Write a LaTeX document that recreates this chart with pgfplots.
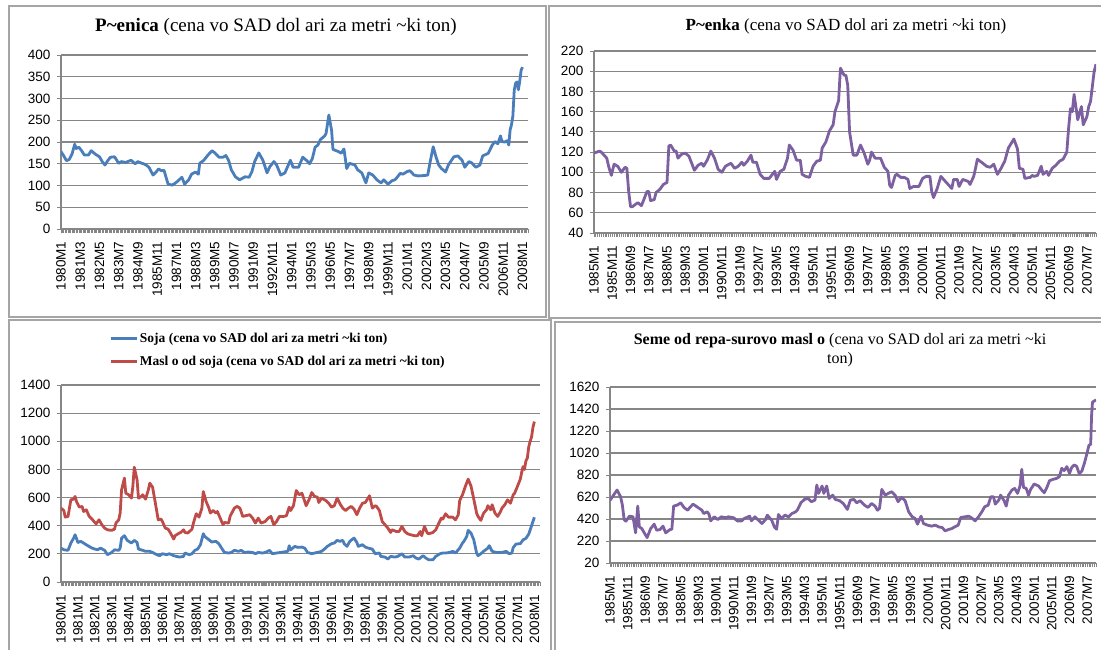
\documentclass[border=0pt]{standalone}
\usepackage{pgfplots}
\pgfplotsset{compat=1.18}
\usepackage{fontspec}
\setmainfont{Liberation Serif}
\newfontfamily\arial{Liberation Sans}
\definecolor{cblue}{RGB}{74,126,187}
\definecolor{cred}{RGB}{190,75,72}
\definecolor{cpurp}{RGB}{125,96,160}
\definecolor{cgrid}{RGB}{134,134,134}
\definecolor{cframe}{RGB}{165,165,165}
\pgfplotsset{
  panel/.style={
    scale only axis, anchor=south west,
    axis lines*=left,
    axis line style={cgrid, line width=1.1pt, -},
    ymajorgrids, grid style={cgrid, line width=1.1pt},
    tick align=outside,
    major tick length=4pt, minor tick length=4pt,
    tick style={cgrid, line width=0.8pt},
    every minor tick/.append style={cgrid, line width=0.7pt},
    ticklabel style={font=\arial\fontsize{13.5}{14}\selectfont, text=black},
    /pgf/number format/assume math mode=true,
    /pgf/number format/1000 sep={},
    xticklabel style={rotate=90, anchor=east},
    xticklabel shift=5pt, yticklabel shift=3pt,
    enlargelimits=false,
    every axis plot/.append style={line width=2.8pt, line join=round, no markers},
  }
}
\begin{document}
\begin{tikzpicture}
\useasboundingbox (0pt,0pt) rectangle (1101pt,650pt);
\clip (0pt,0pt) rectangle (1101pt,650pt);
% frames
\draw[cframe, line width=1.3pt] (9pt,644pt) rectangle (546pt,333pt);
\draw[cframe, line width=1.3pt] (549pt,644pt) rectangle (1110pt,332pt);
\draw[cframe, line width=1.3pt] (9pt,330pt) rectangle (551pt,-10pt);
\draw[cframe, line width=1.3pt] (555pt,328pt) rectangle (1110pt,-10pt);
% titles
\node[font=\fontsize{19}{22}\selectfont] at (276pt,623pt) {\textbf{P\textasciitilde enica} (cena vo SAD dol ari za metri \textasciitilde ki ton)};
\node[font=\fontsize{17}{20}\selectfont] at (846pt,624pt) {\textbf{P\textasciitilde enka} (cena vo SAD dol ari za metri \textasciitilde ki ton)};
\node[font=\fontsize{16}{19}\selectfont, align=center] at (840pt,299.5pt) {\textbf{Seme od repa-surovo masl o} (cena vo SAD dol ari za metri \textasciitilde ki\\ton)};

% Panel 1
\begin{axis}[panel, at={(61pt,421pt)}, width=467pt, height=174pt,
  xmin=0, xmax=340, ymin=0, ymax=400, ytick={0,50,...,400},
  xtick={0,14,...,336}, minor xtick={0,1,...,340},
  xticklabels={1980M1,1981M3,1982M5,1983M7,1984M9,1985M11,1987M1,1988M3,1989M5,1990M7,1991M9,1992M11,1994M1,1995M3,1996M5,1997M7,1998M9,1999M11,2001M1,2002M3,2003M5,2004M7,2005M9,2006M11,2008M1}]
\addplot[cblue] coordinates {(0,178)(2,168)(4,157)(6,160)(8,172)(10,195)(11,185)(13,188)(15,180)(17,170)(20,170)(22,180)(25,172)(28,166)(30,155)(32,147)(34,157)(36,165)(39,166)(42,151)(44,155)(47,153)(51,158)(54,150)(56,155)(58,152)(60,150)(62,147)(64,142)(67,124)(69,130)(71,138)(73,134)(75,135)(76,124)(78,103)(81,101)(83,105)(85,110)(87,116)(88,119)(90,103)(93,113)(95,126)(98,131)(100,126)(101,151)(104,158)(107,170)(110,180)(112,175)(115,165)(118,165)(120,169)(122,158)(124,136)(127,120)(130,113)(134,120)(137,119)(139,132)(141,155)(144,175)(147,158)(150,129)(152,143)(155,155)(157,147)(160,124)(163,129)(167,158)(169,142)(173,142)(176,165)(179,157)(181,150)(183,162)(185,188)(187,193)(189,206)(192,214)(193,220)(195,262)(197,227)(198,183)(202,178)(204,174)(206,184)(208,139)(210,151)(214,147)(216,136)(219,129)(222,106)(224,129)(227,124)(230,113)(233,106)(235,113)(238,103)(241,111)(243,113)(244,116)(247,128)(249,126)(252,132)(254,134)(257,124)(260,122)(265,123)(267,124)(269,158)(271,189)(273,166)(275,147)(277,139)(280,131)(282,147)(286,166)(289,168)(292,158)(294,142)(297,155)(299,152)(302,142)(305,147)(307,168)(311,174)(314,193)(316,201)(318,196)(320,214)(321,201)(323,200)(325,203)(326,193)(327,228)(328,240)(329,260)(330,320)(331,335)(332,338)(333,320)(334,340)(335,365)(336,372)};
\end{axis}

% Panel 2
\begin{axis}[panel, at={(594pt,417pt)}, width=502pt, height=182pt,
  xmin=0, xmax=275, ymin=40, ymax=220, ytick={40,60,...,220},
  xtick={0,10,...,270}, minor xtick={0,1,...,275},
  xticklabels={1985M1,1985M11,1986M9,1987M7,1988M5,1989M3,1990M1,1990M11,1991M9,1992M7,1993M5,1994M3,1995M1,1995M11,1996M9,1997M7,1998M5,1999M3,2000M1,2000M11,2001M9,2002M7,2003M5,2004M3,2005M1,2005M11,2006M9,2007M7}]
\addplot[cpurp] coordinates {(0,119)(3,121)(4,120)(6,116)(7,114)(8,106)(9.5,97)(11,108)(13,106)(15,100)(17,105)(18,104)(19,81)(20,66)(21,66)(24,70)(26,67)(29,81)(30,81)(31,72)(33,73)(34,80)(36,83)(38,88)(40,90)(41,126)(42,127)(44,121)(45,121)(46,114)(48,118)(50,119)(52,116)(55,102)(57,107)(59,109)(60,106)(62,112)(64,121)(66,114)(68,103)(70,100)(72,106)(75,109)(77,104)(79,106)(81,110)(82,107)(84,111)(86,117)(87,110)(89,110)(91,98)(93,94)(96,94)(99,101)(100,93)(102,101)(104,103)(106,114)(107,127)(109,122)(111,112)(113,112)(114,98)(116,96)(118,95)(120,106)(122,111)(124,112)(125,124)(127,130)(129,141)(131,147)(132,160)(134,171)(135,203)(137,196)(138,196)(139,186)(140,140)(142,117)(144,117)(146,127)(148,119)(150,108)(151,112)(152,120)(154,114)(157,114)(159,105)(161,101)(162,87)(163,85)(165,97)(166,98)(168,95)(170,95)(172,93)(173,84)(175,86)(178,86)(180,94)(182,96)(184,96)(185,81)(186,75)(188,84)(190,96)(192,92)(195,86)(196,84)(197,93)(199,93)(200,86)(202,93)(205,91)(206,88)(208,96)(209,104)(210,113)(213,109)(215,106)(217,105)(219,108)(221,98)(223,104)(225,111)(227,124)(230,133)(232,123)(233,104)(235,103)(236,94)(239,95)(240,97)(241,96)(243,97)(245,106)(246,98)(248,101)(249,97)(251,104)(253,107)(255,111)(257,113)(259,120)(260,144)(261,163)(262,160)(263,177)(265,152)(267,165)(268,147)(270,155)(271,165)(272,170)(274,200)(275,207)};
\end{axis}

% Panel 3
\begin{axis}[panel, at={(61pt,68pt)}, width=479pt, height=197pt,
  xmin=0, xmax=340, ymin=0, ymax=1400, ytick={0,200,...,1400},
  xtick={0,12,...,336}, minor xtick={0,1,...,340},
  xticklabels={1980M1,1981M1,1982M1,1983M1,1984M1,1985M1,1986M1,1987M1,1988M1,1989M1,1990M1,1991M1,1992M1,1993M1,1994M1,1995M1,1996M1,1997M1,1998M1,1999M1,2000M1,2001M1,2002M1,2003M1,2004M1,2005M1,2006M1,2007M1,2008M1},
  legend style={draw=none, fill=none, inner sep=0pt, at={(axis description cs:0.1,1.178)}, anchor=west,
    font=\bfseries\fontsize{13.5}{16}\selectfont, row sep=8pt},
  legend cell align=left,
  legend image code/.code={\draw[#1, line width=2.8pt] (0pt,0pt) -- (26pt,0pt);}]
\addplot[cblue] coordinates {(0,241)(2,229)(5,225)(7,277)(9,312)(10,336)(12,281)(14,289)(16,277)(19,258)(22,241)(24,234)(26,229)(28,241)(31,225)(33,194)(36,210)(38,229)(41,225)(42,241)(43,312)(45,329)(47,296)(50,277)(52,296)(54,281)(55,234)(58,225)(60,218)(63,218)(65,210)(68,194)(70,187)(72,201)(75,194)(77,201)(80,187)(82,182)(84,177)(87,182)(88,206)(91,194)(93,201)(95,225)(97,234)(99,265)(101,343)(102,324)(105,300)(107,284)(110,289)(112,272)(114,241)(116,210)(119,206)(121,210)(123,225)(126,218)(128,225)(130,210)(133,213)(136,210)(138,201)(140,210)(143,206)(145,210)(148,225)(150,201)(153,206)(156,210)(159,215)(161,218)(162,258)(163,229)(166,253)(168,246)(171,248)(173,241)(175,210)(178,201)(180,206)(182,210)(185,218)(187,234)(189,253)(192,272)(194,277)(196,296)(198,289)(200,296)(201,272)(203,253)(205,289)(207,305)(208,312)(210,281)(211,253)(214,265)(216,248)(218,241)(221,234)(223,201)(226,206)(227,182)(230,177)(232,163)(234,182)(237,177)(239,182)(242,201)(244,177)(247,177)(250,187)(252,170)(254,163)(257,187)(259,170)(261,158)(264,158)(266,182)(269,201)(271,206)(273,206)(276,210)(278,218)(280,206)(283,241)(285,277)(286,289)(288,324)(289,367)(291,348)(293,300)(295,206)(296,187)(298,201)(300,218)(303,241)(304,258)(306,218)(309,210)(311,210)(313,210)(316,218)(318,201)(320,205)(321,245)(323,270)(326,272)(328,300)(330,310)(332,340)(333,370)(334,400)(336,460)};
\addlegendentry{Soja (cena vo SAD dol ari za metri \textasciitilde ki ton)}
\addplot[cred] coordinates {(0,525)(2,508)(3,461)(5,466)(7,584)(9,589)(10,608)(11,572)(13,532)(15,537)(16,501)(18,513)(20,466)(22,447)(24,423)(25,414)(27,442)(29,407)(31,383)(33,371)(36,367)(38,376)(39,419)(41,442)(42,490)(43,655)(45,738)(46,631)(48,620)(50,596)(51,679)(52,816)(54,726)(55,596)(57,608)(58,620)(60,589)(62,655)(63,702)(65,674)(67,560)(69,442)(71,447)(72,430)(74,383)(76,376)(78,343)(80,305)(81,329)(84,348)(85,352)(87,371)(88,352)(90,348)(93,376)(94,419)(96,485)(98,461)(100,525)(101,643)(103,572)(105,525)(106,490)(108,508)(110,490)(111,501)(113,454)(115,407)(116,423)(119,419)(120,466)(123,525)(125,537)(127,525)(129,466)(131,471)(134,478)(136,454)(138,419)(140,454)(142,419)(145,430)(147,454)(149,466)(151,407)(153,430)(155,466)(158,466)(160,471)(162,532)(163,508)(165,542)(167,650)(169,620)(171,631)(172,603)(174,542)(176,584)(178,636)(180,608)(182,603)(183,565)(185,596)(188,579)(190,560)(192,532)(194,542)(196,596)(198,556)(200,525)(202,508)(204,525)(206,537)(208,518)(210,478)(212,525)(214,560)(216,565)(218,596)(219,613)(221,525)(223,542)(224,537)(226,508)(228,430)(230,407)(232,383)(234,352)(235,371)(238,359)(240,359)(242,395)(244,359)(246,343)(248,336)(251,329)(253,329)(255,359)(256,329)(258,395)(260,348)(261,343)(264,352)(266,371)(268,414)(270,454)(271,447)(273,485)(275,461)(278,461)(280,442)(282,478)(283,579)(285,620)(287,679)(289,731)(291,683)(293,589)(295,490)(296,466)(298,438)(300,490)(302,513)(303,542)(305,513)(306,549)(308,490)(310,466)(312,501)(313,525)(315,549)(317,584)(319,560)(321,620)(322,631)(324,680)(326,730)(327,780)(328,820)(329,800)(330,860)(331,880)(332,960)(333,1000)(334,1030)(335,1100)(336,1140)};
\addlegendentry{Masl o od soja (cena vo SAD dol ari za metri \textasciitilde ki ton)}
\end{axis}

% Panel 4
\begin{axis}[panel, at={(610pt,87pt)}, width=486pt, height=176pt,
  xmin=0, xmax=275, ymin=20, ymax=1620, ytick={20,220,...,1620},
  xtick={0,10,...,270}, minor xtick={0,1,...,275},
  xticklabels={1985M1,1985M11,1986M9,1987M7,1988M5,1989M3,1990M1,1990M11,1991M9,1992M7,1993M5,1994M3,1995M1,1995M11,1996M9,1997M7,1998M5,1999M3,2000M1,2000M11,2001M9,2002M7,2003M5,2004M3,2005M1,2005M11,2006M9,2007M7}]
\addplot[cpurp] coordinates {(0,590)(2,637)(4,683)(6,622)(7,546)(8,415)(9,400)(11,446)(13,440)(14.5,294)(15.7,537)(16.6,348)(18,333)(19.4,294)(21,251)(23,333)(25,373)(26.4,318)(28.3,324)(30,355)(31.5,294)(34,324)(35,327)(36,537)(38,546)(40,567)(42,522)(44,500)(45,522)(47,555)(50,522)(52,500)(53,470)(55,485)(56,464)(57,403)(59,440)(61,415)(63,440)(65.5,431)(67,440)(70,431)(72,403)(74.5,403)(76,425)(79,446)(80,403)(82,440)(84,409)(86,379)(88,415)(89,455)(91.5,409)(93,348)(94.3,327)(95.3,461)(97,425)(99,455)(101,440)(103,470)(105,485)(106,500)(108,567)(110,598)(112,607)(114,577)(116,592)(117,729)(118,653)(120,720)(121,653)(122.6,720)(124,607)(126,637)(127.5,598)(130,586)(132,561)(134.3,507)(136,592)(138,598)(139.6,567)(141.5,586)(144,546)(146,525)(148,561)(150,537)(151.3,500)(152.5,516)(153.8,689)(155.7,637)(157.5,653)(159.4,668)(161.3,637)(163,577)(165,616)(167,586)(169,485)(171,440)(172.6,425)(174,373)(176,446)(177.4,379)(179.6,364)(182,355)(184,364)(186,348)(188,342)(189.6,312)(191.5,324)(193.4,333)(195,348)(197,364)(198.5,434)(201,440)(203,446)(205,425)(206.6,403)(208.5,440)(210.4,485)(212,531)(214,546)(215.5,622)(217,622)(218,555)(220,592)(221,637)(223,586)(224.2,537)(225.5,637)(227.4,683)(229,698)(230.6,653)(232,720)(233,872)(234,707)(235.5,698)(236.8,637)(238,689)(240,738)(242.5,720)(244,689)(245.7,659)(247.2,707)(248.7,768)(250.6,780)(252.8,790)(254.3,805)(255.6,881)(257,860)(258.5,896)(260,835)(261.3,890)(262.6,911)(264,900)(265.5,834)(267,855)(268.5,931)(270,1023)(271,1090)(272,1100)(272.5,1360)(273,1482)(275,1503)};
\end{axis}
\end{tikzpicture}
\end{document}
